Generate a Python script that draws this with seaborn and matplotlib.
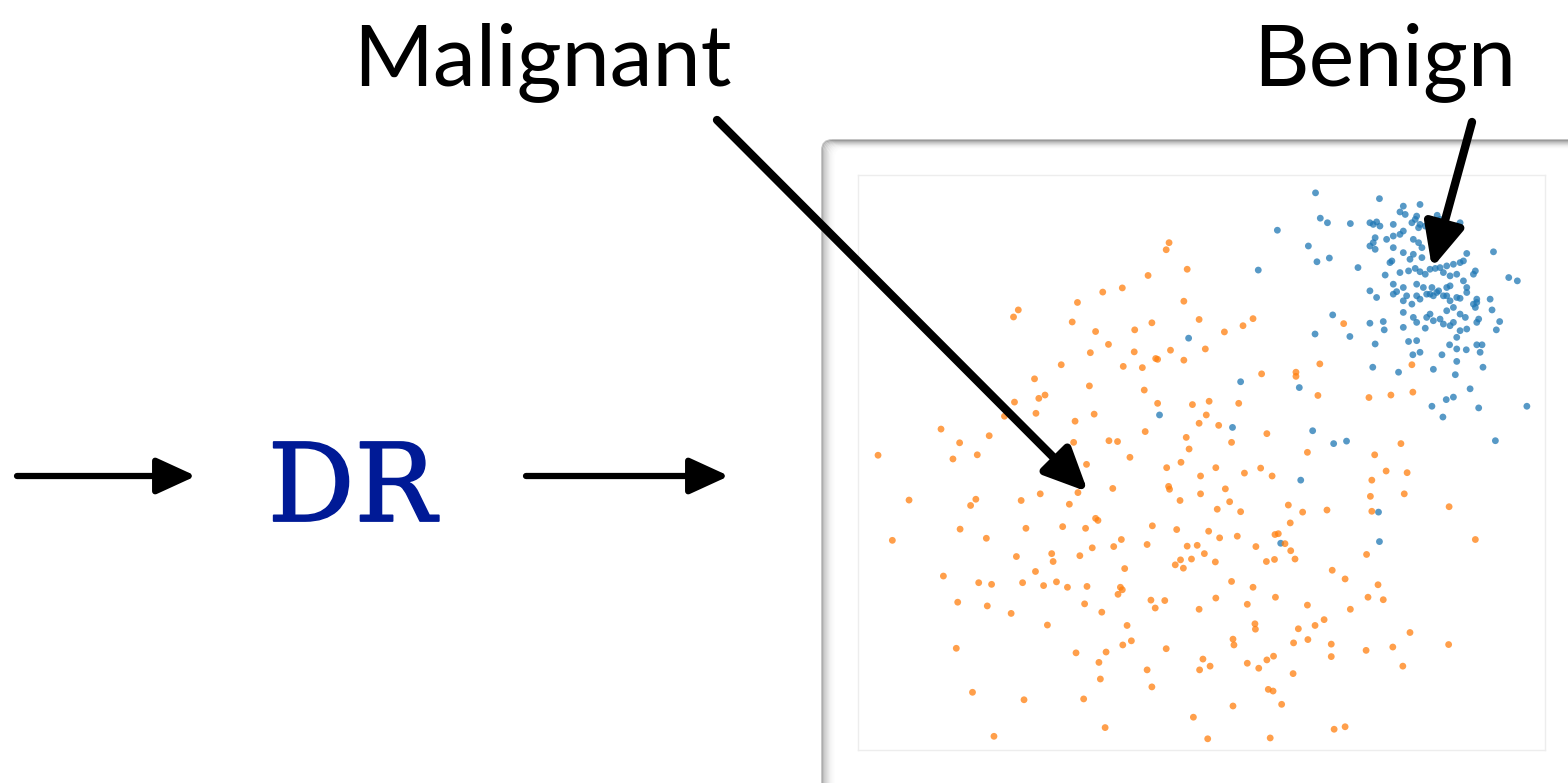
import pandas as pd
import seaborn as sns
import matplotlib.pyplot as plt
import matplotlib.patheffects as pe
from matplotlib.patches import FancyBboxPatch

W, H = 1568, 783

# 2-D embedding (arbitrary units)
benign_pts = [
    (1039, 1342), (1173, 1328), (1049, 1281), (1064, 1270), (1112, 1268), (959, 1252), (1024, 1214),
    (1042, 1176), (1068, 1185), (919, 1156), (1128, 1162), (1444, 1138), (1462, 1130), (1412, 1200),
    (1075, 1048), (1038, 1002), (1111, 996), (1153, 1028), (1181, 1032), (1183, 1012), (1164, 978),
    (1159, 922), (1213, 910), (1286, 917), (1332, 904), (1390, 922), (882, 887), (1005, 873),
    (1363, 870), (1313, 844), (1328, 850), (1283, 828), (1381, 824), (1482, 828), (1306, 802),
    (865, 777), (1033, 769), (1077, 738), (1104, 744), (1416, 745), (1405, 1086), (1409, 1060),
    (1425, 1032), (1418, 1012), (1234, 984), (1251, 986), (1320, 976), (1335, 966), (1355, 964),
    (1377, 976), (1388, 976), (1384, 958), (1243, 952), (1258, 958), (1304, 952), (1335, 936),
    (1223, 1310), (1258, 1314), (1216, 1296), (1227, 1290), (1251, 1286), (1248, 1278), (1241, 1270),
    (1258, 1266), (1255, 1258), (1269, 1262), (1294, 1288), (1300, 1278), (1153, 1270), (1160, 1266),
    (1167, 1272), (1174, 1262), (1202, 1266), (1223, 1250), (1216, 1242), (1202, 1238), (1188, 1230),
    (1164, 1234), (1160, 1222), (1153, 1214), (1164, 1206), (1202, 1210), (1223, 1198), (1244, 1230),
    (1255, 1222), (1262, 1210), (1244, 1194), (1237, 1182), (1199, 1178), (1195, 1174), (1262, 1186),
    (1335, 1262), (1342, 1270), (1328, 1250), (1328, 1238), (1356, 1196), (1185, 1144), (1216, 1150),
    (1234, 1154), (1248, 1160), (1258, 1152), (1269, 1146), (1279, 1158), (1290, 1160), (1300, 1162),
    (1314, 1166), (1328, 1170), (1342, 1174), (1349, 1178), (1307, 1150), (1321, 1142), (1335, 1146),
    (1374, 1154), (1370, 1146), (1202, 1122), (1223, 1114), (1251, 1122), (1265, 1114), (1283, 1114),
    (1297, 1106), (1314, 1114), (1321, 1118), (1349, 1130), (1356, 1114), (1153, 1106), (1167, 1090),
    (1202, 1098), (1230, 1094), (1272, 1098), (1286, 1094), (1314, 1094), (1342, 1088), (1377, 1086),
    (1209, 1104), (1223, 1082), (1241, 1074), (1251, 1094), (1258, 1086), (1279, 1098), (1293, 1102),
    (1307, 1094), (1321, 1082), (1335, 1090), (1356, 1102), (1370, 1074), (1377, 1078), (1223, 1018),
    (1269, 1016), (1272, 1042), (1279, 1050), (1286, 1034), (1300, 1038), (1307, 1026), (1321, 1022),
    (1328, 1030), (1314, 1058), (1342, 1050), (1353, 1042), (1377, 1030), (1381, 1038), (1342, 1010),
    (1335, 994), (1356, 1014), (1251, 1030), (1223, 1054), (1244, 1042), (1328, 1066), (1374, 1066),
    (773, 992), (712, 807), (1008, 650), (1171, 573), (1173, 502), (966, 498),
]

malignant_pts = [
    (732, 1222), (726, 1205), (770, 1158), (688, 1143), (634, 1113), (593, 1103), (540, 1078),
    (763, 1081), (416, 1060), (406, 1043), (529, 1031), (696, 1029), (795, 1037), (908, 1039),
    (887, 1022), (578, 1008), (660, 1012), (848, 1007), (605, 977), (567, 957), (659, 959),
    (735, 963), (808, 966), (704, 943), (708, 941), (763, 939), (506, 928), (636, 924), (676, 921),
    (450, 894), (926, 906), (998, 910), (998, 900), (1048, 930), (565, 877), (680, 867), (472, 855),
    (459, 847), (1044, 854), (1151, 849), (1197, 855), (1243, 862), (408, 838), (708, 835),
    (781, 832), (816, 840), (878, 835), (453, 811), (575, 809), (387, 804), (810, 807), (535, 792),
    (795, 787), (836, 782), (254, 773), (355, 757), (682, 767), (768, 753), (937, 762), (293, 740),
    (532, 741), (606, 745), (624, 743), (863, 741), (1218, 738), (122, 710), (279, 701), (330, 711),
    (650, 705), (774, 725), (1022, 717), (1163, 711), (559, 688), (757, 693), (727, 680), (830, 680),
    (924, 679), (1187, 672), (1231, 668), (798, 660), (890, 667), (948, 660), (1157, 650), (614, 630),
    (731, 635), (733, 628), (850, 629), (187, 602), (327, 604), (316, 589), (422, 601), (462, 617),
    (541, 620), (523, 592), (798, 617), (755, 601), (859, 598), (982, 590), (1154, 611), (1225, 617),
    (833, 580), (882, 574), (1012, 573), (1063, 578), (1157, 575), (1319, 586), (578, 558), (583, 553),
    (986, 547), (294, 532), (432, 534), (509, 538), (557, 534), (697, 540), (748, 531), (815, 527),
    (954, 519), (961, 521), (152, 505), (349, 510), (632, 507), (838, 511), (875, 515), (1374, 507),
    (571, 487), (616, 490), (686, 495), (770, 491), (791, 493), (914, 490), (975, 497), (987, 480),
    (412, 466), (486, 473), (545, 468), (756, 458), (779, 460), (806, 473), (936, 454), (953, 459),
    (996, 460), (1146, 471), (489, 454), (745, 446), (762, 438), (829, 453), (452, 430), (639, 437),
    (1074, 433), (259, 419), (1101, 412), (333, 403), (360, 399), (425, 403), (469, 396), (496, 405),
    (519, 392), (560, 394), (630, 392), (634, 386), (863, 406), (908, 392), (1170, 398), (289, 356),
    (351, 347), (625, 375), (555, 352), (694, 361), (723, 360), (703, 342), (795, 339), (830, 366),
    (896, 351), (955, 368), (1022, 349), (1112, 339), (1149, 368), (1181, 362), (401, 329), (591, 332),
    (477, 301), (644, 300), (912, 304), (913, 291), (1057, 314), (1038, 300), (1003, 292), (653, 263),
    (635, 253), (866, 267), (868, 253), (993, 258), (1023, 266), (1072, 255), (1237, 283), (1318, 254),
    (286, 245), (537, 234), (600, 236), (726, 244), (1072, 225), (1145, 240), (1201, 248), (585, 211),
    (803, 219), (818, 202), (796, 193), (686, 193), (896, 209), (920, 197), (937, 217), (951, 226),
    (992, 184), (1222, 202), (588, 171), (696, 152), (320, 139), (428, 121), (553, 123), (940, 146),
    (950, 142), (968, 110), (866, 106), (783, 79), (365, 33), (598, 54), (813, 27), (944, 29),
    (1078, 50), (1101, 56), (1098, 1027), (1241, 928),
]

palette = {"Benign": "#1f77b4", "Malignant": "#ff7f0e"}

df = pd.concat([
    pd.DataFrame(benign_pts, columns=["x", "y"]).assign(label="Benign"),
    pd.DataFrame(malignant_pts, columns=["x", "y"]).assign(label="Malignant"),
], ignore_index=True)

sns.set_style("white")
fig = plt.figure(figsize=(W / 100, H / 100), dpi=100)

# background layer in pixel coords: rounded panel with a soft inner shadow
bg = fig.add_axes([0, 0, 1, 1], zorder=0)
bg.set_xlim(0, W)
bg.set_ylim(H, 0)
bg.axis("off")
shade = [0.24, 0.19, 0.15, 0.12, 0.09, 0.07, 0.05, 0.035, 0.022, 0.013, 0.006]
for i, a in enumerate(shade):
    bg.add_patch(FancyBboxPatch((822 + i * 1.2, 140 + i * 0.8), 900, 800,
                                boxstyle="round,pad=0,rounding_size=10",
                                fc="none", ec="black", alpha=a, lw=1.3))

# the scatter itself
ax = fig.add_axes([858 / W, 1 - 750 / H, (1545 - 858) / W, (750 - 175) / H], zorder=1)
sns.scatterplot(data=df, x="x", y="y", hue="label", palette=palette, s=24,
                alpha=0.75, linewidth=0, legend=False, ax=ax)
ax.set_xlim(80, 1520)
ax.set_ylim(0, 1385)
ax.set(xticks=[], yticks=[], xlabel="", ylabel="")
for sp in ax.spines.values():
    sp.set_color("#ededed")
    sp.set_linewidth(1)

# overlay layer for labels and arrows
ov = fig.add_axes([0, 0, 1, 1], zorder=2)
ov.set_xlim(0, W)
ov.set_ylim(H, 0)
ov.axis("off")
ov.patch.set_alpha(0)

ov.text(542, 85, "Malignant", fontsize=62, family="Lato", color="black",
        ha="center", va="baseline")
ov.text(1385, 85, "Benign", fontsize=62, family="Lato", color="black",
        ha="center", va="baseline")
ov.text(352, 521, "DR", fontsize=78, family="DejaVu Serif", color="#001a96",
        ha="center", va="baseline",
        path_effects=[pe.withStroke(linewidth=1.3, foreground="#001a96")])

big = dict(arrowstyle="-|>,head_length=1.3,head_width=0.6", mutation_scale=20,
           lw=6, color="black", shrinkA=0, shrinkB=0)
small = dict(arrowstyle="-|>,head_length=1.2,head_width=0.55", mutation_scale=20,
             lw=4.5, color="black", shrinkA=0, shrinkB=0)
ov.annotate("", xy=(1088, 492), xytext=(717, 120), arrowprops=big)
ov.annotate("", xy=(1432, 268), xytext=(1472, 122), arrowprops=big)
ov.annotate("", xy=(196, 476), xytext=(17, 476), arrowprops=small)
ov.annotate("", xy=(729, 476), xytext=(526, 476), arrowprops=small)

fig.savefig("out.png", dpi=100)
